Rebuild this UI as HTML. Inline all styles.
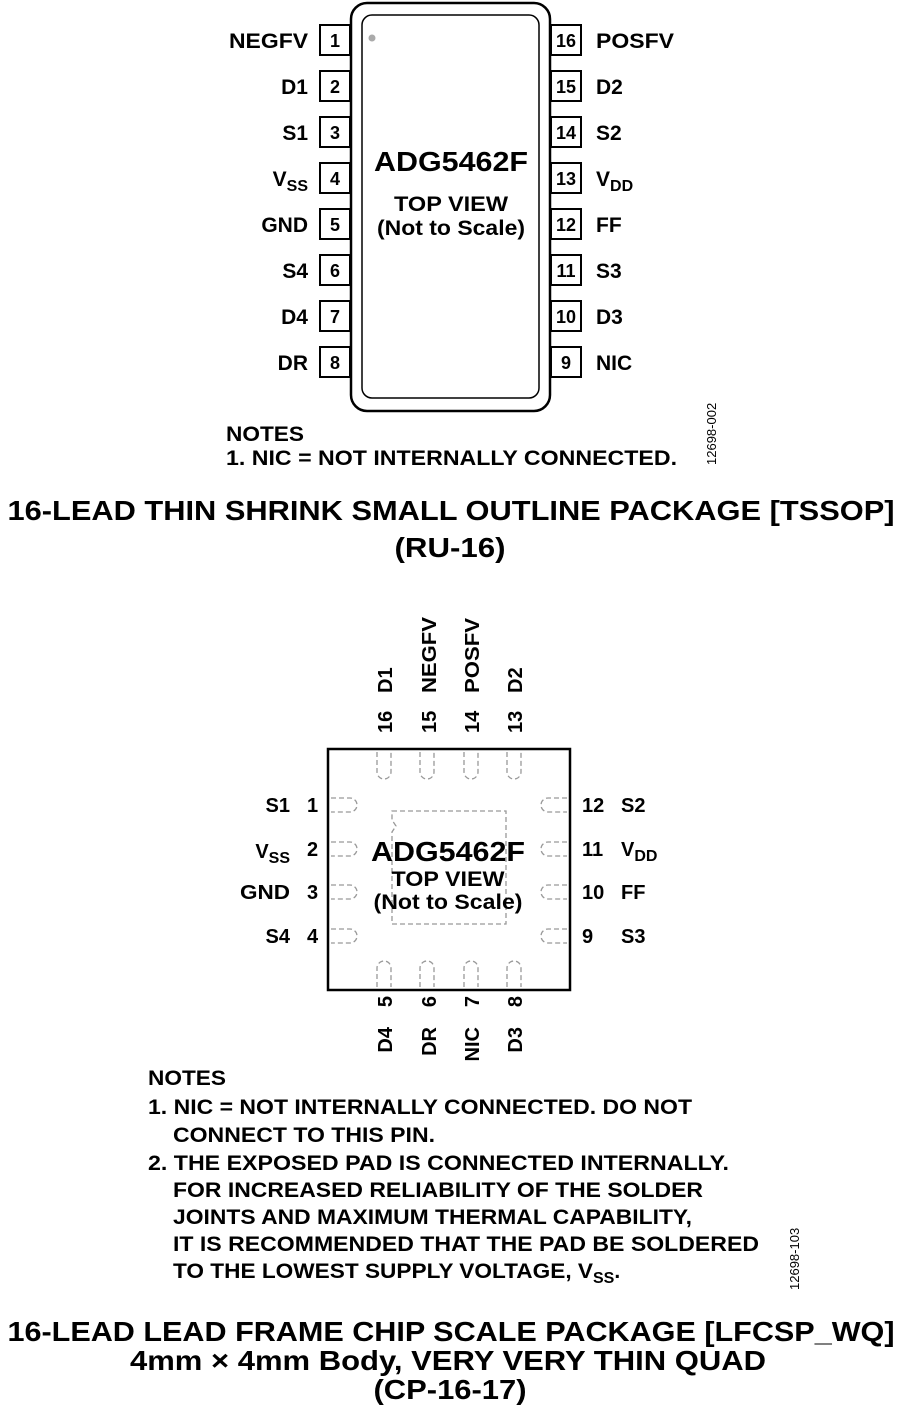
<!DOCTYPE html>
<html><head><meta charset="utf-8"><style>
html,body{margin:0;padding:0;background:#fff;}
svg{display:block;}
text{font-family:"Liberation Sans",Arial,sans-serif;font-weight:bold;fill:#000;}
</style></head><body>
<svg width="900" height="1418" viewBox="0 0 900 1418" xmlns="http://www.w3.org/2000/svg">
<!-- TSSOP -->
<rect x="351" y="3" width="199" height="408" rx="16" fill="#fff" stroke="#000" stroke-width="2.5"/>
<rect x="362" y="15" width="177" height="383" rx="10" fill="none" stroke="#000" stroke-width="1.5"/>
<circle cx="372" cy="38" r="3.5" fill="#aaa"/>
<g stroke="#000" stroke-width="2" fill="#fff">
<rect x="320" y="25" width="30" height="30"/><rect x="320" y="71" width="30" height="30"/>
<rect x="320" y="117" width="30" height="30"/><rect x="320" y="163" width="30" height="30"/>
<rect x="320" y="209" width="30" height="30"/><rect x="320" y="255" width="30" height="30"/>
<rect x="320" y="301" width="30" height="30"/><rect x="320" y="347" width="30" height="30"/>
<rect x="551" y="25" width="30" height="30"/><rect x="551" y="71" width="30" height="30"/>
<rect x="551" y="117" width="30" height="30"/><rect x="551" y="163" width="30" height="30"/>
<rect x="551" y="209" width="30" height="30"/><rect x="551" y="255" width="30" height="30"/>
<rect x="551" y="301" width="30" height="30"/><rect x="551" y="347" width="30" height="30"/>
</g>
<g font-size="18" text-anchor="middle">
<text x="335" y="47">1</text><text x="335" y="93">2</text><text x="335" y="139">3</text><text x="335" y="185">4</text>
<text x="335" y="231">5</text><text x="335" y="277">6</text><text x="335" y="323">7</text><text x="335" y="369">8</text>
<text x="566" y="47">16</text><text x="566" y="93">15</text><text x="566" y="139">14</text><text x="566" y="185">13</text>
<text x="566" y="231">12</text><text x="566" y="277">11</text><text x="566" y="323">10</text><text x="566" y="369">9</text>
</g>
<g font-size="21" text-anchor="end">
<text x="308" y="48" textLength="79" lengthAdjust="spacingAndGlyphs">NEGFV</text><text x="308" y="94">D1</text><text x="308" y="140">S1</text>
<text x="308" y="186">V<tspan font-size="16" dy="5">SS</tspan></text>
<text x="308" y="232">GND</text><text x="308" y="278">S4</text><text x="308" y="324">D4</text><text x="308" y="370">DR</text>
</g>
<g font-size="21">
<text x="596" y="48" textLength="78" lengthAdjust="spacingAndGlyphs">POSFV</text><text x="596" y="94">D2</text><text x="596" y="140">S2</text>
<text x="596" y="186">V<tspan font-size="16" dy="5">DD</tspan></text>
<text x="596" y="232">FF</text><text x="596" y="278">S3</text><text x="596" y="324">D3</text><text x="596" y="370">NIC</text>
</g>
<g text-anchor="middle">
<text x="451" y="171" font-size="28" textLength="154" lengthAdjust="spacingAndGlyphs">ADG5462F</text>
<text x="451" y="211" font-size="21" textLength="114" lengthAdjust="spacingAndGlyphs">TOP VIEW</text>
<text x="451" y="235" font-size="21" textLength="148" lengthAdjust="spacingAndGlyphs">(Not to Scale)</text>
</g>
<text x="226" y="441" font-size="21" textLength="78" lengthAdjust="spacingAndGlyphs">NOTES</text>
<text x="226" y="465" font-size="21" textLength="451" lengthAdjust="spacingAndGlyphs">1. NIC = NOT INTERNALLY CONNECTED.</text>
<text transform="translate(716,465) rotate(-90)" font-size="13" style="font-weight:normal">12698-002</text>
<g text-anchor="middle" font-size="28">
<text x="451" y="520" textLength="887" lengthAdjust="spacingAndGlyphs">16-LEAD THIN SHRINK SMALL OUTLINE PACKAGE [TSSOP]</text>
<text x="450" y="557" textLength="111" lengthAdjust="spacingAndGlyphs">(RU-16)</text>
</g>
<!-- LFCSP -->
<rect x="328" y="749" width="242" height="241" fill="#fff" stroke="#000" stroke-width="2.5"/>
<path d="M392 811 H506 V924 H392 V832 l4 -6 l-4 -6 Z" fill="none" stroke="#999" stroke-width="1.3" stroke-dasharray="5,3"/>
<g fill="none" stroke="#999" stroke-width="1.3" stroke-dasharray="5,3">
<path d="M377 752 V772 a7 7 0 0 0 14 0 V752"/><path d="M420 752 V772 a7 7 0 0 0 14 0 V752"/>
<path d="M464 752 V772 a7 7 0 0 0 14 0 V752"/><path d="M507 752 V772 a7 7 0 0 0 14 0 V752"/>
<path d="M377 987 V968 a7 7 0 0 1 14 0 V987"/><path d="M420 987 V968 a7 7 0 0 1 14 0 V987"/>
<path d="M464 987 V968 a7 7 0 0 1 14 0 V987"/><path d="M507 987 V968 a7 7 0 0 1 14 0 V987"/>
<path d="M331 798 H350 a7 7 0 0 1 0 14 H331"/><path d="M331 842 H350 a7 7 0 0 1 0 14 H331"/>
<path d="M331 885 H350 a7 7 0 0 1 0 14 H331"/><path d="M331 929 H350 a7 7 0 0 1 0 14 H331"/>
<path d="M567 798 H548 a7 7 0 0 0 0 14 H567"/><path d="M567 842 H548 a7 7 0 0 0 0 14 H567"/>
<path d="M567 885 H548 a7 7 0 0 0 0 14 H567"/><path d="M567 929 H548 a7 7 0 0 0 0 14 H567"/>
</g>
<g font-size="20">
<text transform="translate(392,733) rotate(-90)">16</text>
<text transform="translate(436,733) rotate(-90)">15</text>
<text transform="translate(479,733) rotate(-90)">14</text>
<text transform="translate(522,733) rotate(-90)">13</text>
<text transform="translate(392,693) rotate(-90)">D1</text>
<text transform="translate(436,693) rotate(-90)" textLength="76" lengthAdjust="spacingAndGlyphs">NEGFV</text>
<text transform="translate(479,693) rotate(-90)" textLength="75" lengthAdjust="spacingAndGlyphs">POSFV</text>
<text transform="translate(522,693) rotate(-90)">D2</text>
</g>
<g font-size="20" text-anchor="end">
<text transform="translate(392,996) rotate(-90)">5</text>
<text transform="translate(436,996) rotate(-90)">6</text>
<text transform="translate(479,996) rotate(-90)">7</text>
<text transform="translate(522,996) rotate(-90)">8</text>
<text transform="translate(392,1027) rotate(-90)">D4</text>
<text transform="translate(436,1027) rotate(-90)">DR</text>
<text transform="translate(479,1027) rotate(-90)">NIC</text>
<text transform="translate(522,1027) rotate(-90)">D3</text>
</g>
<g font-size="20">
<text x="307" y="812">1</text><text x="307" y="856">2</text><text x="307" y="899">3</text><text x="307" y="943">4</text>
<text x="582" y="812">12</text><text x="582" y="856">11</text><text x="582" y="899">10</text><text x="582" y="943">9</text>
<text x="621" y="812">S2</text>
<text x="621" y="856">V<tspan font-size="16" dy="5">DD</tspan></text>
<text x="621" y="899">FF</text><text x="621" y="943">S3</text>
</g>
<g font-size="20" text-anchor="end">
<text x="290" y="812">S1</text>
<text x="290" y="858">V<tspan font-size="16" dy="5">SS</tspan></text>
<text x="290" y="899" textLength="50" lengthAdjust="spacingAndGlyphs">GND</text><text x="290" y="943">S4</text>
</g>
<g text-anchor="middle">
<text x="448" y="861" font-size="28" textLength="154" lengthAdjust="spacingAndGlyphs">ADG5462F</text>
<text x="448" y="886" font-size="21" textLength="113" lengthAdjust="spacingAndGlyphs">TOP VIEW</text>
<text x="448" y="909" font-size="21" textLength="149" lengthAdjust="spacingAndGlyphs">(Not to Scale)</text>
</g>
<g font-size="21" lengthAdjust="spacingAndGlyphs">
<text x="148" y="1085" textLength="78" lengthAdjust="spacingAndGlyphs">NOTES</text>
<text x="148" y="1114" textLength="544" lengthAdjust="spacingAndGlyphs">1. NIC = NOT INTERNALLY CONNECTED. DO NOT</text>
<text x="173" y="1142" textLength="262" lengthAdjust="spacingAndGlyphs">CONNECT TO THIS PIN.</text>
<text x="148" y="1170" textLength="581" lengthAdjust="spacingAndGlyphs">2. THE EXPOSED PAD IS CONNECTED INTERNALLY.</text>
<text x="173" y="1197" textLength="530" lengthAdjust="spacingAndGlyphs">FOR INCREASED RELIABILITY OF THE SOLDER</text>
<text x="173" y="1224" textLength="519" lengthAdjust="spacingAndGlyphs">JOINTS AND MAXIMUM THERMAL CAPABILITY,</text>
<text x="173" y="1251" textLength="586" lengthAdjust="spacingAndGlyphs">IT IS RECOMMENDED THAT THE PAD BE SOLDERED</text>
<text x="173" y="1278"><tspan textLength="420" lengthAdjust="spacingAndGlyphs">TO THE LOWEST SUPPLY VOLTAGE, V</tspan><tspan font-size="16" dy="5">SS</tspan><tspan dy="-5">.</tspan></text>
</g>
<text transform="translate(799,1290) rotate(-90)" font-size="13" style="font-weight:normal">12698-103</text>
<g text-anchor="middle" font-size="28">
<text x="451" y="1341" textLength="887" lengthAdjust="spacingAndGlyphs">16-LEAD LEAD FRAME CHIP SCALE PACKAGE [LFCSP_WQ]</text>
<text x="448" y="1370" textLength="636" lengthAdjust="spacingAndGlyphs">4mm × 4mm Body, VERY VERY THIN QUAD</text>
<text x="450" y="1399" textLength="153" lengthAdjust="spacingAndGlyphs">(CP-16-17)</text>
</g>
</svg>
</body></html>
